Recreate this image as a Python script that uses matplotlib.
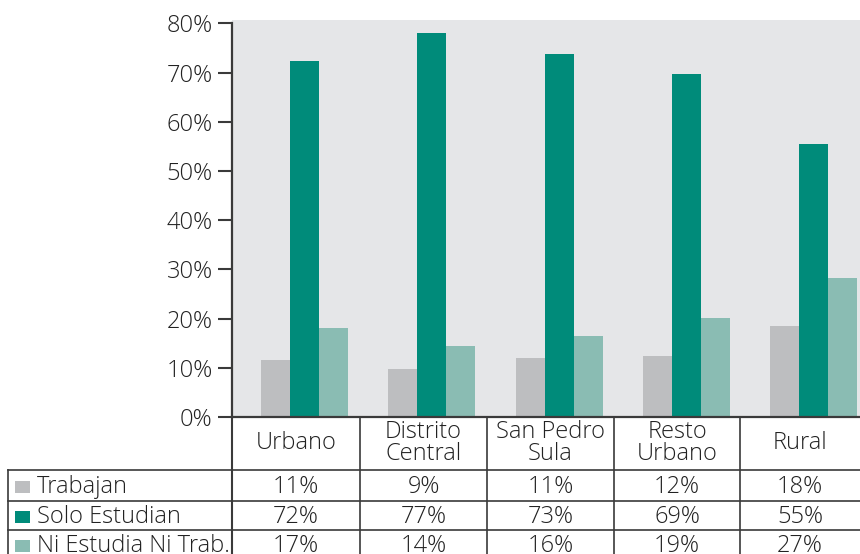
import matplotlib
matplotlib.use("Agg")
import matplotlib.pyplot as plt
import numpy as np
from matplotlib.lines import Line2D
from matplotlib.patches import Rectangle

# ---- data ----
categories = ["Urbano", "Distrito\nCentral", "San Pedro\nSula", "Resto\nUrbano", "Rural"]
series_names = ["Trabajan", "Solo Estudian", "Ni Estudia Ni Trab."]
trabajan = [11.6, 9.7, 12.0, 12.4, 18.5]
solo_estudian = [72.3, 78.0, 73.7, 69.8, 55.4]
ni_estudia = [18.1, 14.4, 16.4, 20.1, 28.2]
table_trabajan = [11, 9, 11, 12, 18]
table_solo = [72, 77, 73, 69, 55]
table_ni = [17, 14, 16, 19, 27]
yticks = [0, 10, 20, 30, 40, 50, 60, 70, 80]

colors = ["#BDBEC0", "#008B7A", "#8ABCB3"]
bg = "#E5E6E8"
linec = "#3A3A3A"
textc = "#222222"
FONT = "Open Sans"
FW = "light"
FS = 17

W, H = 860, 554
fig = plt.figure(figsize=(W / 100, H / 100), dpi=100)

def fx(x):
    return x / W

def fy(y):
    return 1 - y / H

# main axes (pixel box: x 232..860, y 20..417)
ax_l, ax_r, ax_t, ax_b = 232, 860, 20, 417
ax = fig.add_axes([fx(ax_l), fy(ax_b), fx(ax_r - ax_l), (ax_b - ax_t) / H])
ax.set_facecolor(bg)

x = np.arange(len(categories))
bw = 0.228
series = [trabajan, solo_estudian, ni_estudia]
for i, (vals, c) in enumerate(zip(series, colors)):
    ax.bar(x + (i - 1) * bw, vals, width=bw, color=c, edgecolor="none", zorder=2)

ax.set_xlim(-0.570, 4.365)
ax.set_ylim(0, 80.7)
ax.set_yticks(yticks)
ax.set_yticklabels([f"{t}%" for t in yticks], fontfamily=FONT, fontweight=FW,
                   fontsize=FS, color=textc)
ax.set_xticks([])
for s in ["top", "right"]:
    ax.spines[s].set_visible(False)
ax.spines["left"].set_color(linec)
ax.spines["left"].set_linewidth(1.6)
ax.spines["left"].set_bounds(0, 80)
ax.spines["bottom"].set_color(linec)
ax.spines["bottom"].set_linewidth(1.6)
ax.tick_params(axis="y", length=10, width=1.5, color=linec, pad=4)

# ---- table ----
col_edges = [232, 360, 487, 614, 740, 860]
row_lines = [470, 501, 530]
label_left = 8

def hline(x0, x1, y, lw=1.2):
    fig.add_artist(Line2D([fx(x0), fx(x1)], [fy(y), fy(y)], color=linec, lw=lw,
                          transform=fig.transFigure))

def vline(x, y0, y1, lw=1.2):
    fig.add_artist(Line2D([fx(x), fx(x)], [fy(y0), fy(y1)], color=linec, lw=lw,
                          transform=fig.transFigure))

for y in row_lines:
    hline(label_left, W, y)
vline(232, 417, H + 5, lw=1.5)
for xe in col_edges[1:-1]:
    vline(xe, 417, H + 5)
vline(label_left, 470, H + 5)

# category labels
for j, cat in enumerate(categories):
    cx = (col_edges[j] + col_edges[j + 1]) / 2
    fig.text(fx(cx), fy(443), cat, ha="center", va="center", fontfamily=FONT,
             fontweight=FW, fontsize=FS, color=textc, linespacing=0.92)

# data rows
row_centers = [487, 517, 546]
table_vals = [table_trabajan, table_solo, table_ni]
for r, (name, vals, c) in enumerate(zip(series_names, table_vals, colors)):
    yc = row_centers[r]
    fig.add_artist(Rectangle((fx(15), fy(yc + 6)), fx(15) - fx(0), (12) / H,
                             facecolor=c, edgecolor="none", transform=fig.transFigure))
    fig.text(fx(37), fy(yc), name, ha="left", va="center", fontfamily=FONT,
             fontweight=FW, fontsize=FS, color=textc)
    for j, v in enumerate(vals):
        cx = (col_edges[j] + col_edges[j + 1]) / 2
        fig.text(fx(cx), fy(yc), f"{v}%", ha="center", va="center", fontfamily=FONT,
                 fontweight=FW, fontsize=FS, color=textc)

fig.savefig("out.png", dpi=100)
